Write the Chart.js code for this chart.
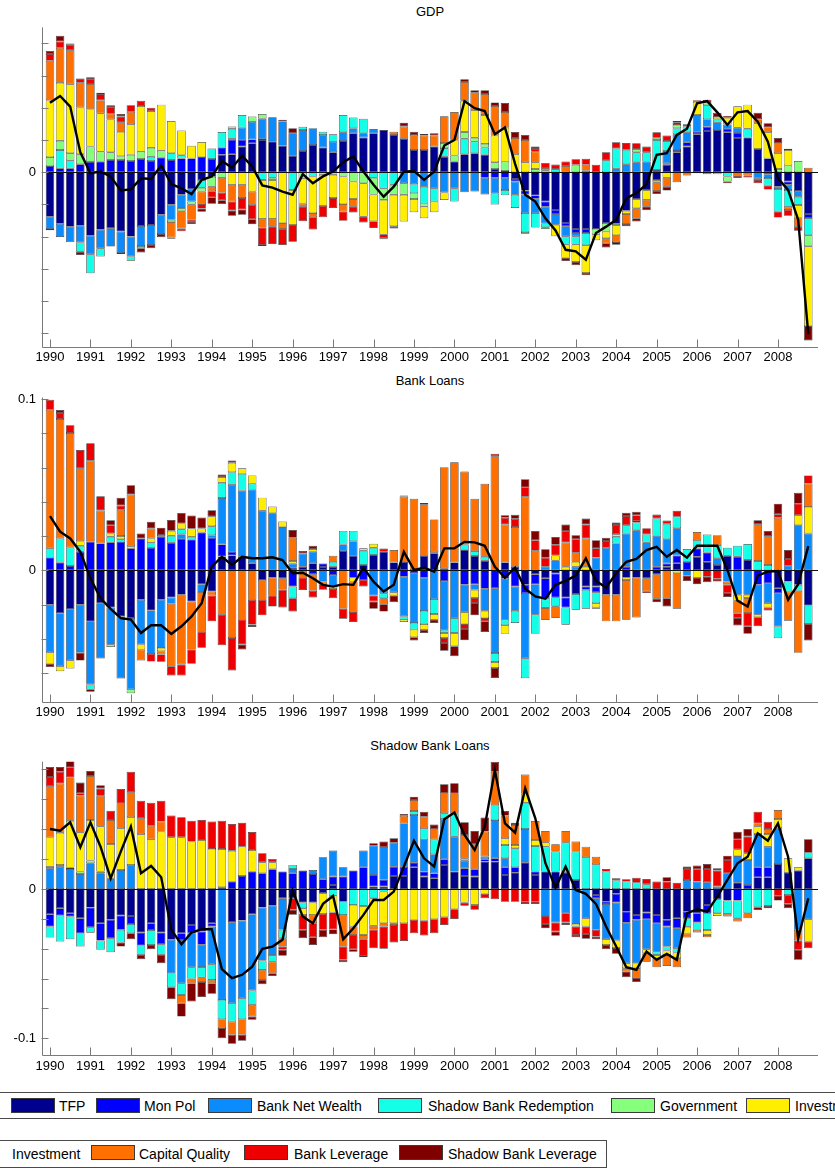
<!DOCTYPE html>
<html>
<head>
<meta charset="utf-8">
<script src="https://cdn.jsdelivr.net/npm/chart.js@4.4.1/dist/chart.umd.min.js"></script>
<style>
html,body{margin:0;padding:0;background:#fff;}
body{width:835px;height:1169px;position:relative;overflow:hidden;font-family:"Liberation Sans",Arial,Helvetica,sans-serif;color:#000;}
canvas{position:absolute;left:0;}
.ttl{position:absolute;left:42px;width:776px;text-align:center;font-size:13px;line-height:16px;}
.lgbox{position:absolute;border:1px solid #4a4a4a;background:#fff;box-sizing:border-box;}
.sw{position:absolute;width:44px;height:15px;box-sizing:border-box;border:1px solid #3a3a3a;}
.lt{position:absolute;font-size:14px;line-height:16px;white-space:nowrap;}
</style>
</head>
<body>
<div class="ttl" style="top:4px">GDP</div>
<canvas id="c1" width="835" height="372" style="top:0px"></canvas>
<div class="ttl" style="top:373px">Bank Loans</div>
<canvas id="c2" width="835" height="356" style="top:372px"></canvas>
<div class="ttl" style="top:738px">Shadow Bank Loans</div>
<canvas id="c3" width="835" height="356" style="top:728px"></canvas>
<div id="legend"></div>
<script>
// ---------- categories ----------
const years = [1990,1991,1992,1993,1994,1995,1996,1997,1998,1999,2000,2001,2002,2003,2004,2005,2006,2007,2008];
const componentNames = ['TFP','Mon Pol','Bank Net Wealth','Shadow Bank Redemption','Government','Investment','Capital Quality','Bank Leverage','Shadow Bank Leverage'];
const componentColors = ['#00008f','#0000ff','#0a8cff','#14ffe8','#86ff7c','#ffee00','#ff7000','#ee0000','#800000'];

// ---------- GDP (units of one y tick) ----------
const gdpTicks = [-5,-4,-3,-2,-1,0,1,2,3,4];
const gdpTFP = [-1.38,-1.60,-1.69,-1.66,-1.97,-1.79,-1.74,-1.84,-2.00,-1.67,-1.64,-1.32,-1.01,-0.70,-0.53,-0.24,-0.14,0.54,0.56,0.80,0.90,1.00,0.95,0.82,0.51,0.66,0.85,0.77,0.62,0.97,1.21,1.08,1.21,1.31,1.16,1.04,0.69,0.69,0.80,0.48,0.33,0.56,0.59,0.54,0.10,0.04,-0.21,-0.57,-0.72,-0.91,-1.17,-1.58,-1.76,-1.76,-1.76,-1.58,-1.60,-1.20,-0.83,-0.55,-0.24,0.23,0.62,0.80,1.18,1.28,1.31,1.24,1.06,1.08,0.72,0.43,-0.45,-0.29,-0.58,-1.30];
const gdpMonPol = [0.19,0.12,0.12,0.25,0.32,0.33,0.38,0.38,0.35,0.41,0.35,0.46,0.38,0.43,0.43,0.47,0.41,0.23,0.45,0.21,0.12,0.03,0,0,0,0,0,0,0,0,0,0,0,0,0,0,0,0,0,0,0,0,0,-0.17,-0.17,-0.17,-0.08,-0.12,-0.10,-0.16,-0.13,-0.10,-0.13,-0.13,0,0,0,0,0,0,0.07,0.05,0.07,0.13,0.08,0.13,0,0.10,0.16,0,0,-0.06,0,-0.10,0,-0.12];
const gdpBankNW = [-0.38,-0.41,-0.48,-0.52,-0.58,-0.57,-0.57,-0.67,-0.62,-0.62,-0.62,-0.60,-0.47,-0.41,-0.38,0,0,0,0.03,0.38,0.55,0.64,0.76,0.76,0.70,0.65,0.52,0.39,0.33,0.27,0.16,0.13,0.13,0,0,-0.34,-0.37,-0.45,-0.50,-0.63,-0.50,-0.62,-0.60,-0.52,-0.49,-0.38,-0.41,-0.58,-0.45,-0.52,-0.33,-0.31,-0.10,0,0,0,0.12,0.25,0.31,0.33,0,0.38,0.49,0.31,0.52,0.24,0.24,0.14,0.16,0,-0.19,-0.12,-0.07,-0.16,-0.18,0];
const gdpShadowRed = [-0.04,0.57,0.25,-0.29,-0.59,-0.26,0,-0.03,-0.13,-0.07,0.13,0,0.21,0.10,0,-0.24,0.33,0.48,0.31,0.39,0,-0.24,-0.17,0,-0.55,0.10,-0.13,0.10,0.23,0.54,0.33,0.45,-0.17,-0.50,-0.39,0,-0.28,-0.52,-0.41,0.27,-0.41,0.48,0.36,0.23,-0.34,-0.16,-0.41,-0.59,-0.45,-0.12,0.10,-0.26,-0.26,-0.38,0,0.37,0.62,0.45,0.31,0.29,0.93,0.31,0.19,0.18,0,0.43,0.10,-0.13,0,0.27,-0.05,-0.23,-0.70,-0.52,-0.26,-0.54];
const gdpGov = [0.28,0.29,0.22,0.31,0.48,0.31,0.24,0.12,0.19,0.23,0.28,0.21,-0.07,-0.10,-0.10,-0.12,-0.31,-0.17,0.07,0,0.16,0.14,-0.07,0,0,-0.19,0,-0.08,-0.08,-0.13,-0.29,-0.34,-0.52,-0.36,-0.31,-0.36,-0.18,-0.10,0,0.16,0.19,0.21,0.12,0.11,0.21,0.29,0,-0.05,0.10,-0.05,0,0,0.23,0.05,-0.17,-0.26,-0.05,0,0.10,0,0.07,0,0.10,0,0,0.10,-0.06,-0.16,0,0,0,0,0.10,0.21,0.35,-0.34];
const gdpInv = [1.77,1.80,2.14,1.45,1.16,1.19,1.02,0.76,0.95,1.42,1.14,1.43,1.00,0.77,0.39,0.47,0,0,-0.39,-0.39,-0.60,-1.21,-1.21,-1.58,-1.09,-0.78,-1.14,-0.96,-0.72,-0.86,-0.54,-1.04,-0.83,-1.07,-0.98,-0.83,-0.41,-0.36,-0.33,-0.23,0.49,0.97,0.86,0.90,0.83,1.06,0.56,0.31,0.21,0.06,-0.36,-0.41,-0.54,-0.86,-0.18,-0.21,-0.31,-0.10,-0.29,-0.31,-0.07,-0.17,0,0,0.41,0,0.07,0.21,0.67,0.75,0.80,0.81,0.49,0.48,-0.39,-2.48];
const gdpCapQ = [1.22,1.09,1.06,0.77,0.78,0.41,0.18,0.29,0.39,0,0,0,-0.48,-0.54,-0.47,-0.39,-0.14,-0.47,-0.52,-0.41,-0.41,-0.27,-0.24,-0.18,0,-0.10,-0.13,0,0,-0.23,-0.24,0,0,0,0.10,0.38,0.47,0.45,0.34,0.83,0.86,0.58,0.54,0.65,0.92,0.48,0.50,0.69,0.33,0.07,0,0.19,0,0.18,0,-0.16,-0.21,-0.31,-0.31,-0.21,-0.27,-0.28,-0.31,-0.10,-0.03,-0.06,0,0,-0.12,-0.10,0.13,0.16,0.31,-0.10,-0.28,0.14];
const gdpBankLev = [0.21,0.19,0.17,0.13,0.16,0.19,0.21,0.18,0.20,0.16,0.10,0,0,-0.08,-0.07,-0.14,-0.19,-0.23,-0.28,-0.36,-0.45,-0.54,-0.54,-0.50,-0.52,-0.45,-0.38,-0.36,-0.31,-0.29,-0.18,-0.18,-0.21,-0.12,-0.07,0,0,0,0,0,0,0,0,0,0,0,0,0,0.08,0.16,0.14,0.14,0.17,0.19,0.23,0.25,0.19,0.21,0.18,0.18,0.17,0.17,0.08,0.07,0.05,0.07,0,-0.05,-0.06,-0.06,-0.10,-0.13,-0.19,-0.18,-0.13,0];
const gdpShadowLev = [0.10,0.18,0.04,-0.10,0.05,0.04,0.05,0.08,0,-0.13,-0.10,-0.10,-0.04,0,-0.06,-0.10,-0.20,-0.12,-0.16,-0.16,-0.16,-0.03,0,0.05,0.16,0,0,0,0,0,0,0,0,-0.03,0,0.12,0.10,0.05,0.07,0,0,0.09,0.08,0.12,0.11,0.28,0.19,0.16,0.08,0,0,-0.10,-0.10,-0.07,0,-0.13,-0.08,-0.07,-0.10,-0.11,-0.10,-0.12,0.04,0,0,0,0.13,0.06,0,0,0.20,0.12,0.16,0.04,0,-0.45];
const gdpData = [2.16,2.37,2.04,0.62,-0.03,0.02,-0.13,-0.57,-0.53,-0.19,-0.21,0.21,-0.37,-0.50,-0.68,-0.24,-0.13,0.35,0.14,0.51,0.18,-0.41,-0.48,-0.60,-0.70,-0.06,-0.34,-0.13,0.02,0.31,0.49,0.02,-0.39,-0.76,-0.45,0.02,0.04,-0.24,0.02,0.83,1.00,2.21,1.99,1.90,1.18,1.39,0.26,-0.70,-0.91,-1.43,-1.81,-2.41,-2.46,-2.72,-1.89,-1.69,-1.48,-0.81,-0.65,-0.37,0.54,0.59,1.16,1.35,2.14,2.21,1.86,1.47,1.86,1.90,1.57,0.95,-0.19,-0.55,-1.48,-5.03];

// ---------- Bank Loans (percent) ----------
const bankTicks = [-0.06,-0.04,-0.02,0,0.02,0.04,0.06,0.08,0.1];
const bankTFP = [-2.01,-2.50,-2.27,-2.01,-2.98,-1.92,-2.17,-2.69,-2.79,-1.72,-2.34,-1.72,-1.59,-1.43,-1.82,-0.81,-1.24,0.81,0.87,0.79,0.41,-0.56,-0.43,-0.46,0.15,0.21,0.41,0.19,0.21,1.12,0.85,0.31,0.89,1.08,0.46,0.50,0.02,0.85,0.99,0.12,0.46,1.18,0.83,0.56,0,0.46,0.21,-0.85,-0.23,-0.46,-0.19,-1.59,-1.39,-0.95,-0.95,-1.43,-1.43,-0.43,-0.43,-0.46,-0.23,0.21,0.41,0,0.79,0.50,0.31,0.85,0,0.60,0,0,-1.05,-0.66,-0.85,-2.05];
const bankMonPol = [0.74,0.45,0.25,1.08,1.66,1.57,1.63,1.66,1.28,1.86,1.32,1.96,1.61,1.82,1.80,2.21,1.90,0.70,0.21,0,0,0,0,0,-0.95,0,-0.23,0.21,-0.27,0,-0.43,-0.56,0,0,0,-0.37,-0.17,-0.43,0,-0.62,0,-0.85,-0.81,-1.08,-1.05,-0.50,-0.95,-0.48,-0.58,-1.16,-1.39,-0.58,0,-0.19,-0.33,0,0,0.21,0,0,0.21,0.19,0.45,0.50,0.48,0.54,0,0,0.79,0,-0.85,-0.76,-0.29,0,0,0];
const bankBankNW = [-2.77,-3.10,-2.98,-2.81,-3.68,-3.23,-2.17,-3.62,-4.16,-2.61,-2.54,-2.81,-0.37,0.29,0,-0.46,0.15,2.71,3.91,3.87,4.30,3.48,3.33,2.52,0.25,0.77,0.68,-0.66,-0.68,0.39,0.85,0,-1.47,-1.34,-1.28,-2.32,-2.90,-1.94,-1.68,-2.85,-2.79,-1.59,-0.33,-1.28,-3.78,-2.38,-1.41,-3.81,-1.78,0.21,0.58,0,0.21,0,0.74,1.32,1.57,1.94,2.34,1.63,1.80,1.41,1.59,-0.31,0,0,0.39,-0.66,-1.43,-1.43,-1.74,-1.16,-1.94,0.27,2.63,2.15];
const bankShadowRed = [0.54,1.41,1.08,0.35,-0.29,0,0.33,0.15,0,0,0.31,0.10,0.41,0.29,0.15,0,0.52,0.89,0.74,0.97,0.35,0,0,0,-0.68,0,0,0,0.29,0.79,0.60,0.83,0.43,-0.29,0,-0.19,-0.39,-0.77,-0.87,-0.19,-0.87,0.33,0.29,0.23,-0.52,-0.33,-0.72,-1.16,-1.12,-0.58,-0.52,-1.01,-0.91,-1.10,-0.64,0,0.39,0.48,0.45,0.48,1.01,0.91,0.68,0.74,0.48,1.05,0.77,0.46,0.64,0.93,0.54,0.31,-0.68,-0.58,-0.35,-1.08];
const bankGov = [0,0,0,0,0,0,-0.14,0,-0.23,0,0,0,0,0,0,0,0,0,0,0,0,0,0,0,0,0,0,0,0,0,0,0,0,0,0,0,0,0,0.06,0,0,0,0,0,0,0,0,0,0,0,0,0,0,0,0,0,0,0,0,0,0,0,0,0,0,0,0,0,0,0,0,0,0,0,0,0];
const bankInv = [-0.68,-0.29,-0.48,0.27,0,0,0.19,0.19,0.12,-0.29,0.23,-0.19,0.29,0.33,0.48,0.23,0.58,0.33,0.54,0.33,0.48,0.76,0.39,0.33,0.14,0,0.15,0,-0.14,0,-0.23,0.14,0.23,0,-0.19,-0.14,-0.45,-0.33,-0.33,-0.29,-0.77,-0.70,-0.48,-0.43,-0.35,-0.50,0,0,0,0,0.29,0.21,0.29,0.21,-0.25,0,0.14,-0.14,0.08,0,0,0,-0.17,0,-0.43,0,0,0,-0.35,-0.19,-0.15,-0.25,0,0,0.58,1.55];
const bankCapQ = [8.09,6.97,6.68,4.26,4.74,1.92,0,1.53,3.02,-0.64,0.58,-0.19,-3.64,-4.07,-2.81,-2.32,-0.23,-2.59,-3.95,-2.88,-1.72,-1.16,-1.05,-0.68,1.36,-0.43,-0.97,-0.15,0.35,-2.25,-1.78,0,0,-0.35,0.72,3.81,4.16,3.00,1.92,5.90,5.85,4.26,3.06,4.26,6.66,2.21,2.32,4.30,1.14,-0.70,-0.68,1.41,0.52,1.65,-0.08,-1.55,-1.55,-2.32,-2.32,-0.77,-1.43,-1.63,-2.07,0,0.48,0,0.58,-0.19,-0.72,-0.87,2.15,1.68,3.06,-1.70,-3.62,1.36];
const bankBankLev = [0.58,0.35,0.46,1.06,1.01,0.83,0.48,0.25,0,0,-0.45,-0.43,-0.54,-0.64,-0.83,-0.93,-1.51,-1.78,-1.90,-1.45,-1.45,-0.91,-0.64,-1.03,-0.77,-0.72,-0.39,-0.33,-0.54,-0.58,-0.58,-0.39,-0.35,0.19,0,0,0,0.08,0,-0.29,0,-0.29,-0.29,-0.19,0.14,0.39,0.48,0.54,0.62,0.52,0.62,0.68,0.79,0.81,0.54,0.39,0.54,0.54,0.35,0.35,0.23,0.19,0.35,0,0,-0.37,-0.50,-0.48,-0.29,-0.77,-0.52,-0.17,0.21,0.39,0.68,0.48];
const bankShadowLev = [-0.19,0.17,0,-0.45,-0.14,0,0.29,0.45,0.54,0.29,0.39,0.43,0.62,0.62,0.77,0.64,0.35,0.15,0.14,-0.29,-0.14,0,0,0,0.45,0.15,0.19,0,0,0,0,0,-0.43,-0.43,-0.39,0.06,-0.19,-0.19,-0.19,-0.45,-0.58,-0.66,-0.72,-0.62,-0.58,0.15,0.23,0.48,0.54,0.50,0.45,0.37,0.23,0.35,0.48,0.19,0.15,0.19,0.19,-0.10,-0.21,-0.48,0,-0.31,-0.39,-0.33,-0.15,-0.23,-0.43,-0.45,0.23,0.31,0.62,0.52,0.64,-0.97];
const bankData = [3.16,2.25,1.86,1.08,-0.46,-1.63,-2.25,-2.79,-2.88,-3.66,-3.21,-3.21,-3.72,-3.27,-2.69,-1.92,0.21,0.79,0.31,0.79,0.70,0.70,0.76,0.60,-0.17,-0.14,-0.46,-0.85,-0.95,-0.81,-0.85,0.15,-0.66,-1.24,-0.85,1.08,0.02,0.15,-0.08,1.28,1.28,1.66,1.63,1.43,0.21,-0.43,0.15,-1.08,-1.53,-1.66,-0.85,-0.62,-0.31,0.70,-0.62,-1.01,-0.17,0.50,0.66,1.18,1.37,0.79,1.18,0.74,1.43,1.43,1.43,0.02,-1.78,-2.11,-0.31,-0.08,-0.04,-1.72,-0.81,1.41];

// ---------- Shadow Bank Loans (percent) ----------
const shadowTicks = [-0.1,-0.08,-0.06,-0.04,-0.02,0,0.02,0.04,0.06,0.08];
const shadowTFP = [-1.69,-1.29,-1.63,-1.96,-1.25,-2.30,-2.07,-1.78,-1.81,-2.92,-2.30,-2.92,-3.41,-2.97,-2.41,-2.85,-2.30,0.11,-2.23,-2.12,-1.69,-1.25,-1.12,-0.62,-0.62,-0.91,-0.91,-0.29,0.27,-0.85,0,0,0.16,0.16,0.87,0.87,1.45,0.83,0.71,1.61,1.16,0.87,0.83,1.83,1.83,0.94,1.09,1.76,0.94,1.16,1.16,1.09,0.60,0,-0.40,-0.85,-0.33,-1.52,-1.74,-1.58,-1.74,-2.07,-1.96,-1.52,-1.63,-1.07,-0.69,-0.78,0.42,0,0.78,0.78,1.67,1.09,1.23,2.05];
const shadowMonPol = [-0.83,-0.49,-0.22,-1.00,-1.32,-1.16,-1.23,-0.96,-0.54,-0.87,-0.45,-0.78,0,-0.45,-0.56,-0.89,-0.22,0,0.49,0.87,1.16,1.05,1.32,1.16,1.05,1.23,1.00,0.65,0.56,0.83,1.23,1.45,0.78,0.45,0.62,0.62,0.31,0.33,0.33,0.38,0,0.51,0.49,0.16,0.22,0.51,0.36,0,0.22,0,0,0,0,0,-0.22,-0.16,-0.58,-0.74,-0.33,-0.45,-0.56,-0.45,-0.67,-0.45,-0.62,-0.56,0,0,-0.78,0.27,0.67,0.67,0,0,0,0];
const shadowBankNW = [1.38,1.49,1.34,1.00,1.72,1.05,0.71,1.27,1.61,0,0,0,-2.23,-2.90,-2.27,-1.49,-2.52,-7.43,-5.42,-5.20,-5.11,-3.55,-3.30,-2.12,0.29,0,0.27,1.47,1.74,0.62,0,1.12,1.96,2.19,1.61,2.90,3.19,2.16,1.29,2.70,2.34,0.51,0,0.18,2.56,0.60,0,2.25,0,-1.81,-2.25,-1.63,-2.34,-1.96,-2.12,-2.36,-2.54,-2.72,-2.90,-2.01,-1.90,-1.34,-1.34,0.60,0.49,0.45,0.16,1.05,1.78,1.67,2.23,1.38,2.39,0,-2.74,-2.03];
const shadowShadowRed = [-0.74,-1.74,-1.52,-0.89,-0.36,-0.62,-0.94,-0.85,-0.62,-0.62,-1.00,-0.71,-0.94,-0.78,-0.78,-0.69,-1.05,-1.29,-1.23,-1.40,-0.96,-0.62,-0.45,-0.56,0.27,-0.38,0,0,-0.45,-0.89,-1.07,-1.14,-0.62,-0.18,0,0,0.27,0.74,0.98,0.38,1.56,0.16,0,0,1.00,0.89,1.27,1.76,1.72,1.67,1.34,2.01,1.90,2.12,1.65,1.16,0.56,0.49,0.42,0.31,-0.22,-0.27,-0.29,-0.56,-0.49,-1.12,-0.94,-0.89,-1.18,-1.63,-1.23,-1.14,0,-0.40,0,0.38];
const shadowGov = [0.11,0.11,0.09,0.16,0.18,0.11,0,0,0,0,0,0,0,0,0,0,0,0,0,0,0,0,0,0,0,0,0,0,0,0,0,0,0,0,0,0,0,0,0,0,0,0,0,0,0,0,0,0,0,0,0,0,0,0,0,0,0,0,0,0,0,0,0,0,0,0,0,0,0,0,0,0,0,0,0,0];
const shadowInv = [1.96,2.16,3.14,2.61,2.72,3.01,2.30,2.79,3.19,3.66,3.32,3.84,3.46,3.46,3.17,3.28,2.68,2.56,2.07,1.96,1.45,0.74,0.47,0,0,-0.45,-0.83,-1.38,-1.12,0,-1.45,-1.94,-1.85,-2.12,-2.30,-2.30,-2.07,-2.12,-2.03,-1.90,-1.36,-0.91,-1.07,-0.33,0,0.45,0.22,0.62,0.40,0.27,0,0,-0.18,-0.56,0,-0.38,-0.51,-0.33,-0.33,-0.27,-0.22,-0.29,-0.38,-0.45,0,-0.33,-0.18,0,0.45,0.45,0.49,0.85,0.62,0.96,0.22,-1.49];
const shadowCapQ = [3.43,3.30,2.90,2.48,2.94,2.07,1.61,1.67,1.67,1.07,0.91,0.67,0,-0.56,-0.29,-0.31,-0.22,-0.60,-0.89,-1.05,-0.78,-0.67,-0.78,-0.56,0,0,-0.56,0,0,-2.12,-0.56,-0.29,-0.27,-0.22,-0.11,0.51,0.74,0.78,0.69,1.34,1.34,1.56,1.67,1.67,2.23,1.52,1.34,1.27,1.27,0.78,0.49,0.78,0.67,0.71,0.51,0,0,-0.22,-0.67,-0.56,-0.60,-0.74,-0.60,-0.27,-0.18,-0.16,0,-0.18,-0.22,-0.33,0.22,0.33,0.60,0,-0.71,0];
const shadowBankLev = [0.62,0.78,0.67,0.16,0,0.49,0.62,0.96,1.38,1.18,1.54,1.40,1.45,1.34,1.40,1.34,1.83,1.90,1.78,1.61,1.20,0.60,0.22,-0.22,-0.78,-1.00,-0.94,-1.07,-1.14,-0.89,-0.96,-1.12,-1.23,-1.49,-1.18,-1.18,-0.89,-1.00,-0.94,-0.51,-0.65,-0.22,-0.33,-0.29,-0.69,-0.85,-0.85,-0.85,-0.85,-0.54,-0.60,-0.62,-0.56,-0.49,-0.45,0.18,0.16,0.16,0.33,0.36,0.49,0.49,0.42,0.74,0.83,0.89,1.07,0.89,0.67,1.12,0.78,0.49,-0.45,-0.60,-0.62,-0.45];
const shadowShadowLev = [0.67,0.33,0.45,0.71,0.33,0.22,0,-0.27,-0.40,-0.29,-0.29,-0.56,-0.80,-0.89,-1.23,-1.00,-0.71,-0.67,-0.60,-0.40,-0.22,-0.29,-0.18,-0.40,-0.33,-0.56,-0.51,-0.49,-0.33,-0.16,-0.16,-0.09,0.16,0.38,0.29,0.11,0.22,0.33,0.31,0.60,0.67,0.85,0.89,0.94,0.67,0.31,0.16,-0.16,-0.16,-0.29,-0.29,-0.16,-0.16,-0.33,-0.18,-0.29,-0.38,-0.38,-0.27,0,0,0.29,0,0.16,0.25,0.33,0.16,0.29,0.51,0.51,-0.18,-0.16,-0.33,-0.29,-0.67,0.89];
const shadowData = [4.01,3.90,4.46,2.79,4.46,2.83,0.71,2.50,4.17,1.05,1.54,0.78,-2.74,-3.70,-2.92,-2.70,-2.70,-5.37,-5.98,-5.75,-5.20,-4.01,-3.86,-3.41,-0.11,-1.85,-2.30,-1.00,-0.47,-3.37,-2.63,-1.74,-0.74,-0.74,-0.18,1.49,3.23,2.05,1.49,4.66,5.11,3.61,2.61,4.17,7.96,4.39,3.77,6.73,4.73,1.72,0.09,1.49,-0.07,-0.33,-1.00,-2.52,-3.86,-5.24,-5.42,-4.19,-4.75,-4.35,-4.75,-1.63,-1.36,-1.52,-0.51,0.60,1.72,2.16,3.72,3.23,4.39,2.16,-3.30,-0.62];

// ---------- drawing ----------
Chart.defaults.font.family = '"Liberation Sans", Arial, Helvetica, sans-serif';
Chart.defaults.font.size = 13;
Chart.defaults.color = '#000';

const matAxes = {
  id: 'matAxes',
  beforeDatasetDraw(chart, args) {
    if (args.meta.type !== 'line') return;
    const {ctx, chartArea: a, scales: {y}} = chart;
    const y0 = Math.round(y.getPixelForValue(0)) + 0.5;
    ctx.save();
    ctx.strokeStyle = '#111'; ctx.lineWidth = 1;
    ctx.beginPath(); ctx.moveTo(a.left, y0); ctx.lineTo(a.right, y0); ctx.stroke();
    ctx.restore();
  },
  afterDraw(chart) {
    const {ctx, chartArea: a, scales: {x, y}} = chart;
    const L = Math.round(a.left) + 0.5, B = Math.round(a.bottom) + 0.5;
    ctx.save();
    ctx.strokeStyle = '#7a7a7a'; ctx.lineWidth = 1;
    ctx.beginPath();
    ctx.moveTo(L, a.top); ctx.lineTo(L, B); ctx.lineTo(a.right, B);
    y.ticks.forEach(t => { const p = Math.round(y.getPixelForValue(t.value)) + 0.5; ctx.moveTo(L - 1, p); ctx.lineTo(L + 6, p); });
    x.ticks.forEach(t => { const p = Math.round(x.getPixelForValue(t.value)) + 0.5; ctx.moveTo(p, B); ctx.lineTo(p, B - 8); });
    ctx.stroke();
    ctx.restore();
  }
};

function makeChart(id, comps, actual, factor, yMin, yMax, tickVals, labelFn, padTop, xAxisH) {
  const datasets = comps.map((arr, k) => ({
    type: 'bar',
    label: componentNames[k],
    backgroundColor: componentColors[k],
    borderColor: 'rgba(25,25,25,0.85)',
    borderWidth: 0.7,
    borderSkipped: false,
    stack: 'contrib',
    order: 2,
    categoryPercentage: 1,
    barPercentage: 0.84,
    data: arr.map((v, i) => ({x: i, y: v === 0 ? null : v * factor}))
  }));
  datasets.push({
    type: 'line', label: 'Data', stack: 'actual', order: 0,
    data: actual.map((v, i) => ({x: i, y: v * factor})),
    borderColor: '#000', borderWidth: 2.4, pointRadius: 0, fill: false, tension: 0
  });
  return new Chart(document.getElementById(id), {
    type: 'bar',
    data: {datasets},
    plugins: [matAxes],
    options: {
      responsive: false, maintainAspectRatio: false, animation: false,
      layout: {padding: {top: padTop, right: 17, left: 0, bottom: 0}},
      plugins: {legend: {display: false}, tooltip: {enabled: false}},
      scales: {
        x: {
          type: 'linear', stacked: true, min: -0.79, max: 75.96, offset: false,
          grid: {display: false, drawTicks: false}, border: {display: false},
          afterBuildTicks: ax => { ax.ticks = years.map((yr, k) => ({value: k * 4})); },
          ticks: {callback: v => String(years[0] + v / 4), padding: 3, maxRotation: 0, autoSkip: false},
          afterFit: s => { s.height = xAxisH; }
        },
        y: {
          stacked: true, min: yMin, max: yMax,
          grid: {display: false, drawTicks: false}, border: {display: false},
          afterBuildTicks: ax => { ax.ticks = tickVals.map(v => ({value: v})); },
          ticks: {callback: v => labelFn(v), padding: 6},
          afterFit: s => { s.width = 42; }
        }
      }
    }
  });
}

const near = (a, b) => Math.abs(a - b) < 1e-9;

makeChart('c1',
  [gdpTFP, gdpMonPol, gdpBankNW, gdpShadowRed, gdpGov, gdpInv, gdpCapQ, gdpBankLev, gdpShadowLev],
  gdpData, 1, -5.43, 4.5, gdpTicks, v => near(v, 0) ? '0' : '', 27.4, 25);

makeChart('c2',
  [bankTFP, bankMonPol, bankBankNW, bankShadowRed, bankGov, bankInv, bankCapQ, bankBankLev, bankShadowLev],
  bankData, 0.01, -0.0767, 0.1008, bankTicks, v => near(v, 0) ? '0' : (near(v, 0.1) ? '0.1' : ''), 25.6, 26.3);

makeChart('c3',
  [shadowTFP, shadowMonPol, shadowBankNW, shadowShadowRed, shadowGov, shadowInv, shadowCapQ, shadowBankLev, shadowShadowLev],
  shadowData, 0.01, -0.1114, 0.0852, shadowTicks, v => near(v, 0) ? '0' : (near(v, -0.1) ? '-0.1' : ''), 33.7, 28.7);

// ---------- legend (two boxes, as in the figure) ----------
const legendRow1 = [[0, 11, 59], [1, 96, 144], [2, 208, 257], [3, 378, 428], [4, 611, 660], [5, 746, 795]];
const legendRow2 = [[6, 91, 139], [7, 244, 294], [8, 399, 448]];
const lg = document.getElementById('legend');
function box(left, top, w, h) {
  const d = document.createElement('div');
  d.className = 'lgbox';
  Object.assign(d.style, {left: left + 'px', top: top + 'px', width: w + 'px', height: h + 'px'});
  lg.appendChild(d);
}
function item(k, sx, tx, swTop, txTop) {
  if (sx !== null) {
    const s = document.createElement('div');
    s.className = 'sw';
    Object.assign(s.style, {left: sx + 'px', top: swTop + 'px', background: componentColors[k]});
    lg.appendChild(s);
  }
  const t = document.createElement('div');
  t.className = 'lt';
  t.textContent = componentNames[k];
  Object.assign(t.style, {left: tx + 'px', top: txTop + 'px'});
  lg.appendChild(t);
}
box(-2, 1092, 842, 27);
legendRow1.forEach(([k, sx, tx]) => item(k, sx, tx, 1098, 1097.5));
box(-1, 1140, 608, 28);
item(5, null, 12, 1145, 1146);
legendRow2.forEach(([k, sx, tx]) => item(k, sx, tx, 1145, 1146));
</script>
</body>
</html>
